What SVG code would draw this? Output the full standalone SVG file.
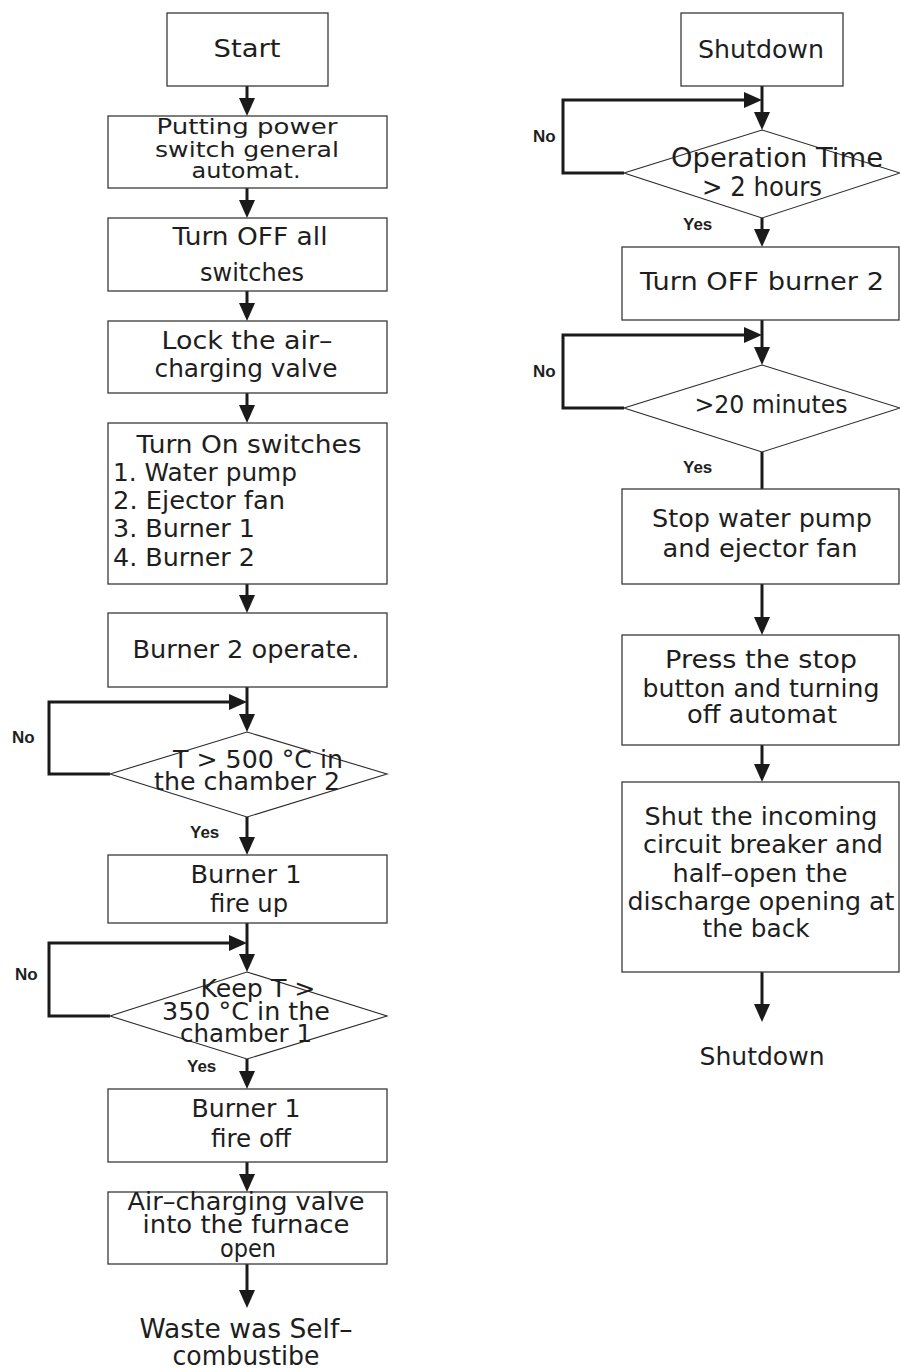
<svg xmlns="http://www.w3.org/2000/svg" width="900" height="1369" viewBox="0 0 900 1369">
  <style>
    .box { fill: #fff; stroke: #3a3a3a; stroke-width: 1.3; }
    .dia { fill: #fff; stroke: #2a2a2a; stroke-width: 1.1; }
    .t { font-family: "DejaVu Sans", "Liberation Sans", sans-serif; font-size: 24px; fill: #1e1e1e; text-anchor: middle; }
    .s { font-size: 22px; }
    .l { text-anchor: start; font-size: 25px; }
    .m { font-size: 25px; }
    .big { font-size: 26px; }
    .xl { font-size: 27px; }
    .yn { font-family: "Liberation Sans", Arial, sans-serif; font-weight: bold; font-size: 17px; fill: #1e1e1e; }
    .c { fill: none; stroke: #1a1a1a; stroke-width: 3; }
  </style>
  <defs>
    <marker id="ah" markerUnits="userSpaceOnUse" viewBox="0 0 18 16" markerWidth="18" markerHeight="16" refX="9" refY="8" orient="auto">
      <path d="M0,0 L18,8 L0,16 Z" fill="#1a1a1a"/>
    </marker>
  </defs>
  <rect width="900" height="1369" fill="#fff"/>

  <!-- connectors -->
  <g id="connectors">
    <!-- left column -->
    <line class="c" x1="247" y1="86" x2="247" y2="107" marker-end="url(#ah)"/>
    <line class="c" x1="247" y1="188" x2="247" y2="209" marker-end="url(#ah)"/>
    <line class="c" x1="247" y1="291" x2="247" y2="312" marker-end="url(#ah)"/>
    <line class="c" x1="247" y1="393" x2="247" y2="414" marker-end="url(#ah)"/>
    <line class="c" x1="247" y1="584" x2="247" y2="604" marker-end="url(#ah)"/>
    <line class="c" x1="247" y1="687" x2="247" y2="723" marker-end="url(#ah)"/>
    <polyline class="c" points="110,774 49,774 49,702 238,702" marker-end="url(#ah)"/>
    <line class="c" x1="247" y1="817" x2="247" y2="846" marker-end="url(#ah)"/>
    <line class="c" x1="247" y1="923" x2="247" y2="963" marker-end="url(#ah)"/>
    <polyline class="c" points="110,1016 49,1016 49,943 238,943" marker-end="url(#ah)"/>
    <line class="c" x1="247" y1="1059" x2="247" y2="1080" marker-end="url(#ah)"/>
    <line class="c" x1="247" y1="1162" x2="247" y2="1183" marker-end="url(#ah)"/>
    <line class="c" x1="247" y1="1264" x2="247" y2="1299" marker-end="url(#ah)"/>
    <!-- right column -->
    <line class="c" x1="762" y1="86" x2="762" y2="121" marker-end="url(#ah)"/>
    <polyline class="c" points="624,173 563,173 563,100 753,100" marker-end="url(#ah)"/>
    <line class="c" x1="762" y1="218" x2="762" y2="238" marker-end="url(#ah)"/>
    <line class="c" x1="762" y1="320" x2="762" y2="356" marker-end="url(#ah)"/>
    <polyline class="c" points="624,408 563,408 563,335 753,335" marker-end="url(#ah)"/>
    <line class="c" x1="762" y1="452" x2="762" y2="489"/>
    <line class="c" x1="762" y1="584" x2="762" y2="626" marker-end="url(#ah)"/>
    <line class="c" x1="762" y1="745" x2="762" y2="773" marker-end="url(#ah)"/>
    <line class="c" x1="762" y1="972" x2="762" y2="1013" marker-end="url(#ah)"/>
    <!-- branch labels -->
    <text class="yn" x="12" y="743">No</text>
    <text class="yn" x="190" y="838">Yes</text>
    <text class="yn" x="15" y="980">No</text>
    <text class="yn" x="187" y="1072">Yes</text>
    <text class="yn" x="533" y="142">No</text>
    <text class="yn" x="683" y="230">Yes</text>
    <text class="yn" x="533" y="377">No</text>
    <text class="yn" x="683" y="473">Yes</text>
  </g>

  <!-- left column nodes -->
  <g id="start">
    <rect class="box" x="167" y="13" width="161" height="73"/>
    <text class="t" x="247" y="57" textLength="67" lengthAdjust="spacingAndGlyphs">Start</text>
  </g>
  <g id="power-switch">
    <rect class="box" x="108" y="116" width="279" height="72"/>
    <text class="t s" x="247" y="134" textLength="181" lengthAdjust="spacingAndGlyphs">Putting power</text>
    <text class="t s" x="247" y="157" textLength="184" lengthAdjust="spacingAndGlyphs">switch general</text>
    <text class="t s" x="246" y="178" textLength="109" lengthAdjust="spacingAndGlyphs">automat.</text>
  </g>
  <g id="switches-off">
    <rect class="box" x="108" y="218" width="279" height="73"/>
    <text class="t" x="250" y="245" textLength="155" lengthAdjust="spacingAndGlyphs">Turn OFF all</text>
    <text class="t" x="252" y="281" textLength="104" lengthAdjust="spacingAndGlyphs">switches</text>
  </g>
  <g id="lock-valve">
    <rect class="box" x="108" y="321" width="279" height="72"/>
    <text class="t" x="247" y="349" textLength="171" lengthAdjust="spacingAndGlyphs">Lock the air–</text>
    <text class="t" x="246" y="377" textLength="183" lengthAdjust="spacingAndGlyphs">charging valve</text>
  </g>
  <g id="switches-on">
    <rect class="box" x="108" y="423" width="279" height="161"/>
    <text class="t m" x="249" y="453" textLength="225" lengthAdjust="spacingAndGlyphs">Turn On switches</text>
    <text class="t l" x="113" y="481" textLength="184" lengthAdjust="spacingAndGlyphs">1. Water pump</text>
    <text class="t l" x="113" y="509" textLength="172" lengthAdjust="spacingAndGlyphs">2. Ejector fan</text>
    <text class="t l" x="113" y="537" textLength="142" lengthAdjust="spacingAndGlyphs">3. Burner 1</text>
    <text class="t l" x="113" y="566" textLength="142" lengthAdjust="spacingAndGlyphs">4. Burner 2</text>
  </g>
  <g id="burner2-operate">
    <rect class="box" x="108" y="613" width="279" height="74"/>
    <text class="t" x="246" y="658" textLength="227" lengthAdjust="spacingAndGlyphs">Burner 2 operate.</text>
  </g>
  <g id="check-chamber2">
    <polygon class="dia" points="247,732 387,774 247,817 110,774"/>
    <text class="t m" x="258" y="768" textLength="170" lengthAdjust="spacingAndGlyphs">T &gt; 500 °C in</text>
    <text class="t m" x="247" y="790" textLength="186" lengthAdjust="spacingAndGlyphs">the chamber 2</text>
  </g>
  <g id="burner1-fire-up">
    <rect class="box" x="108" y="855" width="279" height="68"/>
    <text class="t" x="246" y="883" textLength="111" lengthAdjust="spacingAndGlyphs">Burner 1</text>
    <text class="t" x="249" y="912" textLength="78" lengthAdjust="spacingAndGlyphs">fire up</text>
  </g>
  <g id="check-chamber1">
    <polygon class="dia" points="247,972 387,1016 247,1059 110,1016"/>
    <text class="t m" x="258" y="997" textLength="115" lengthAdjust="spacingAndGlyphs">Keep T &gt;</text>
    <text class="t m" x="246" y="1020" textLength="168" lengthAdjust="spacingAndGlyphs">350 °C in the</text>
    <text class="t m" x="246" y="1042" textLength="132" lengthAdjust="spacingAndGlyphs">chamber 1</text>
  </g>
  <g id="burner1-fire-off">
    <rect class="box" x="108" y="1089" width="279" height="73"/>
    <text class="t" x="246" y="1117" textLength="109" lengthAdjust="spacingAndGlyphs">Burner 1</text>
    <text class="t" x="251" y="1147" textLength="80" lengthAdjust="spacingAndGlyphs">fire off</text>
  </g>
  <g id="open-valve">
    <rect class="box" x="108" y="1192" width="279" height="72"/>
    <text class="t" x="246" y="1210" textLength="237" lengthAdjust="spacingAndGlyphs">Air–charging valve</text>
    <text class="t" x="246" y="1233" textLength="207" lengthAdjust="spacingAndGlyphs">into the furnace</text>
    <text class="t" x="248" y="1257" textLength="56" lengthAdjust="spacingAndGlyphs">open</text>
  </g>
  <g id="self-combustion">
    <text class="t xl" x="246" y="1338" textLength="213" lengthAdjust="spacingAndGlyphs">Waste was Self–</text>
    <text class="t xl" x="246" y="1365" textLength="147" lengthAdjust="spacingAndGlyphs">combustibe</text>
  </g>

  <!-- right column nodes -->
  <g id="shutdown-start">
    <rect class="box" x="681" y="13" width="162" height="73"/>
    <text class="t" x="761" y="58" textLength="126" lengthAdjust="spacingAndGlyphs">Shutdown</text>
  </g>
  <g id="check-operation-time">
    <polygon class="dia" points="762,130 900,173 762,218 624,173"/>
    <text class="t big" x="777" y="167" textLength="212" lengthAdjust="spacingAndGlyphs">Operation Time</text>
    <text class="t big" x="762" y="196" textLength="120" lengthAdjust="spacingAndGlyphs">&gt; 2 hours</text>
  </g>
  <g id="burner2-off">
    <rect class="box" x="622" y="247" width="277" height="73"/>
    <text class="t" x="762" y="290" textLength="244" lengthAdjust="spacingAndGlyphs">Turn OFF burner 2</text>
  </g>
  <g id="check-20-minutes">
    <polygon class="dia" points="762,365 900,408 762,452 624,408"/>
    <text class="t" x="771" y="413" textLength="153" lengthAdjust="spacingAndGlyphs">&gt;20 minutes</text>
  </g>
  <g id="stop-pump-fan">
    <rect class="box" x="622" y="489" width="277" height="95"/>
    <text class="t" x="762" y="527" textLength="220" lengthAdjust="spacingAndGlyphs">Stop water pump</text>
    <text class="t" x="760" y="557" textLength="195" lengthAdjust="spacingAndGlyphs">and ejector fan</text>
  </g>
  <g id="stop-button">
    <rect class="box" x="622" y="635" width="277" height="110"/>
    <text class="t" x="761" y="668" textLength="192" lengthAdjust="spacingAndGlyphs">Press the stop</text>
    <text class="t" x="761" y="697" textLength="237" lengthAdjust="spacingAndGlyphs">button and turning</text>
    <text class="t" x="762" y="723" textLength="150" lengthAdjust="spacingAndGlyphs">off automat</text>
  </g>
  <g id="shut-breaker">
    <rect class="box" x="622" y="782" width="277" height="190"/>
    <text class="t" x="761" y="825" textLength="233" lengthAdjust="spacingAndGlyphs">Shut the incoming</text>
    <text class="t" x="763" y="853" textLength="240" lengthAdjust="spacingAndGlyphs">circuit breaker and</text>
    <text class="t" x="760" y="882" textLength="175" lengthAdjust="spacingAndGlyphs">half–open the</text>
    <text class="t" x="761" y="910" textLength="267" lengthAdjust="spacingAndGlyphs">discharge opening at</text>
    <text class="t" x="756" y="937" textLength="107" lengthAdjust="spacingAndGlyphs">the back</text>
  </g>
  <g id="shutdown-end">
    <text class="t" x="762" y="1065" textLength="125" lengthAdjust="spacingAndGlyphs">Shutdown</text>
  </g>
</svg>
